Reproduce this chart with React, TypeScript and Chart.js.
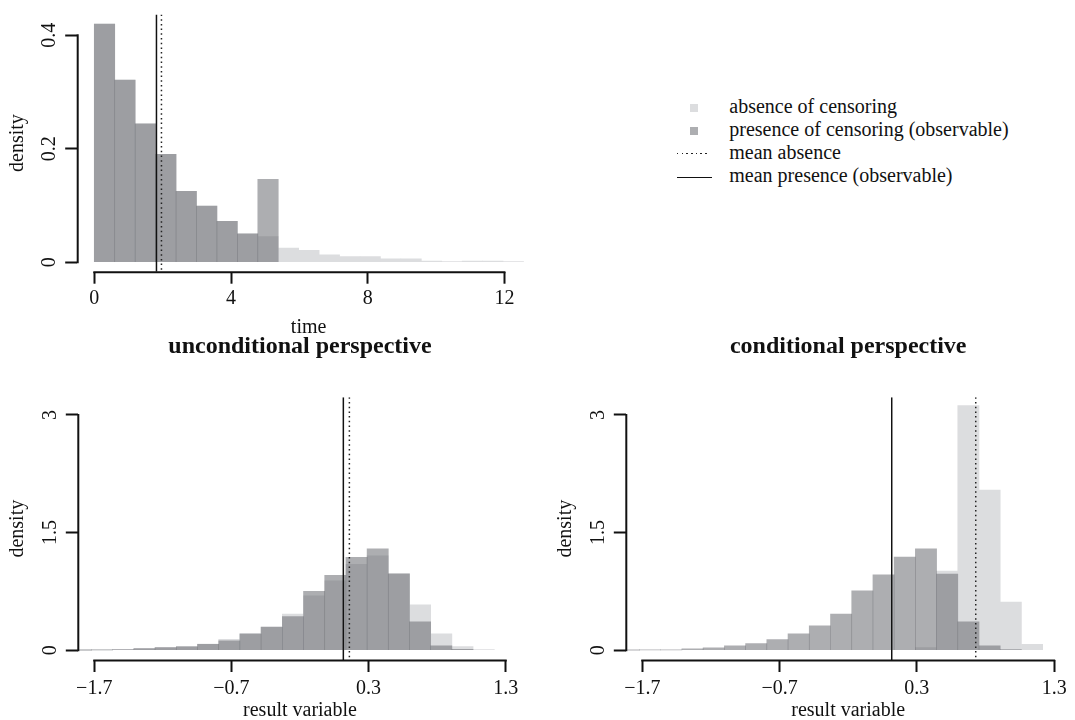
import React, { useEffect, useRef } from "react";
import { Chart, registerables } from "chart.js";

Chart.register(...registerables);

const FONT = "'Liberation Serif', 'Times New Roman', 'DejaVu Serif', serif";
const INK = "#111111";
const ABSENCE_COLOR = "rgb(220, 221, 223)";
const PRESENCE_COLOR = "rgba(103, 105, 110, 0.54)";

// ---------- top panel: time ----------
const timeBreaks = [0, 0.598, 1.196, 1.794, 2.392, 2.99, 3.588, 4.186, 4.784, 5.382, 5.98, 6.578, 7.176, 7.774, 8.372, 8.97, 9.568, 10.166, 10.764, 11.362, 11.96, 12.558];
const timeAbsence = [0.42, 0.321, 0.244, 0.19, 0.125, 0.099, 0.072, 0.05, 0.045, 0.025, 0.021, 0.013, 0.01, 0.01, 0.006, 0.006, 0.002, 0.001, 0.002, 0.002, 0.001];
const timePresence = [0.42, 0.321, 0.244, 0.19, 0.125, 0.099, 0.072, 0.05, 0.146];
const timeMeanAbsence = 1.965;
const timeMeanPresence = 1.819;
const timeTicks = [0, 4, 8, 12];
const timeTickLabels = ["0", "4", "8", "12"];
const timeDensityTicks = [0, 0.2, 0.4];
const timeDensityTickLabels = ["0", "0.2", "0.4"];

// ---------- bottom panels: result variable ----------
const resultBreaks = [-1.875, -1.72, -1.566, -1.411, -1.257, -1.102, -0.947, -0.793, -0.638, -0.484, -0.329, -0.174, -0.02, 0.135, 0.289, 0.444, 0.598, 0.753, 0.907, 1.062, 1.217];
const uncondAbsence = [0.002, 0.004, 0.008, 0.022, 0.034, 0.05, 0.078, 0.14, 0.217, 0.302, 0.462, 0.695, 0.884, 1.096, 1.203, 0.975, 0.578, 0.21, 0.047, 0.008];
const uncondPresence = [0.002, 0.004, 0.008, 0.021, 0.034, 0.044, 0.076, 0.121, 0.206, 0.293, 0.43, 0.752, 0.956, 1.186, 1.292, 0.973, 0.361, 0.056, 0.012, 0];
const uncondMeanAbsence = 0.16;
const uncondMeanPresence = 0.116;
const condAbsence = [0, 0, 0, 0, 0, 0, 0, 0, 0, 0, 0, 0, 0, 0, 0.035, 1.01, 3.12, 2.041, 0.615, 0.076];
const condPresence = [0.002, 0.003, 0.005, 0.017, 0.03, 0.055, 0.085, 0.136, 0.208, 0.31, 0.462, 0.759, 0.963, 1.188, 1.294, 0.972, 0.361, 0.055, 0.008, 0];
const condMeanAbsence = 0.729;
const condMeanPresence = 0.117;
const resultTicks = [-1.7, -0.7, 0.3, 1.3];
const resultTickLabels = ["\u22121.7", "\u22120.7", "0.3", "1.3"];
const resultDensityTicks = [0, 1.5, 3];
const resultDensityTickLabels = ["0", "1.5", "3"];

const legendLabels = [
  "absence of censoring",
  "presence of censoring (observable)",
  "mean absence",
  "mean presence (observable)",
];

function histPoints(edges: number[], values: number[]) {
  const pts: { x: number; y: number }[] = [];
  values.forEach((v, i) => {
    if (v > 0) pts.push({ x: (edges[i] + edges[i + 1]) / 2, y: v });
  });
  return pts;
}

const axisLinePlugin = {
  id: "rAxisLines",
  afterDraw(chart: any) {
    const { ctx, chartArea, scales } = chart;
    const xs = scales.x;
    const ys = scales.y;
    ctx.save();
    ctx.strokeStyle = INK;
    ctx.lineWidth = 2;
    ctx.beginPath();
    const xt = xs.ticks;
    const yb = chartArea.bottom + 0.5;
    ctx.moveTo(xs.getPixelForValue(xt[0].value) - 1, yb);
    ctx.lineTo(xs.getPixelForValue(xt[xt.length - 1].value) + 1, yb);
    const yt = ys.ticks;
    const xl = chartArea.left + 0.5;
    ctx.moveTo(xl, ys.getPixelForValue(yt[0].value) + 1);
    ctx.lineTo(xl, ys.getPixelForValue(yt[yt.length - 1].value) - 1);
    ctx.stroke();
    ctx.restore();
  },
};

interface PanelSpec {
  left: number;
  top: number;
  width: number;
  height: number;
  padding: { top: number; right: number; bottom: number; left: number };
  yAxisWidth: number;
  xAxisHeight: number;
  xMin: number;
  xMax: number;
  yMin: number;
  yMax: number;
  xTicks: number[];
  xTickLabels: string[];
  yTicks: number[];
  yTickLabels: string[];
  xTickPad: number;
  xTitle: string;
  xTitlePadBottom: number;
  yTitle: string;
  title?: string;
  titlePad?: { top: number; bottom: number };
  edges: number[];
  absence: number[];
  presence: number[];
  meanAbsence: number;
  meanPresence: number;
}

function buildConfig(p: PanelSpec): any {
  const tickFont = { family: FONT, size: 20, lineHeight: 1.2 };
  return {
    type: "bar",
    data: {
      datasets: [
        {
          type: "line",
          label: legendLabels[3],
          data: [
            { x: p.meanPresence, y: p.yMax },
            { x: p.meanPresence, y: p.yMin },
          ],
          borderColor: INK,
          borderWidth: 1.5,
          pointRadius: 0,
          fill: false,
          clip: 0,
          order: 0,
        },
        {
          type: "line",
          label: legendLabels[2],
          data: [
            { x: p.meanAbsence, y: p.yMax },
            { x: p.meanAbsence, y: p.yMin },
          ],
          borderColor: "#222222",
          borderWidth: 1.5,
          borderDash: [1.5, 3.2],
          pointRadius: 0,
          fill: false,
          clip: 0,
          order: 0,
        },
        {
          label: legendLabels[1],
          data: histPoints(p.edges, p.presence),
          backgroundColor: PRESENCE_COLOR,
          borderWidth: 0,
          barPercentage: 1,
          categoryPercentage: 1,
          grouped: false,
          clip: 0,
          order: 1,
        },
        {
          label: legendLabels[0],
          data: histPoints(p.edges, p.absence),
          backgroundColor: ABSENCE_COLOR,
          borderWidth: 0,
          barPercentage: 1,
          categoryPercentage: 1,
          grouped: false,
          clip: 0,
          order: 2,
        },
      ],
    },
    options: {
      responsive: false,
      animation: false,
      devicePixelRatio: 1,
      events: [],
      layout: { padding: p.padding },
      plugins: {
        legend: { display: false },
        tooltip: { enabled: false },
        title: p.title
          ? {
              display: true,
              text: p.title,
              color: INK,
              fullSize: false,
              font: { family: FONT, size: 24, weight: "bold", lineHeight: 1.2 },
              padding: p.titlePad,
            }
          : { display: false },
      },
      scales: {
        x: {
          type: "linear",
          min: p.xMin,
          max: p.xMax,
          offset: false,
          afterBuildTicks: (s: any) => {
            s.ticks = p.xTicks.map((v) => ({ value: v }));
          },
          afterFit: (s: any) => {
            s.height = p.xAxisHeight;
          },
          ticks: {
            autoSkip: false,
            minRotation: 0,
            maxRotation: 0,
            padding: p.xTickPad,
            color: INK,
            font: tickFont,
            callback: (_v: any, i: number) => p.xTickLabels[i],
          },
          grid: {
            display: true,
            offset: false,
            drawOnChartArea: false,
            drawTicks: true,
            tickLength: 12,
            tickWidth: 2,
            tickColor: INK,
          },
          border: { display: false },
          title: {
            display: true,
            text: p.xTitle,
            color: INK,
            font: { family: FONT, size: 20, lineHeight: 1 },
            padding: { top: 0, bottom: p.xTitlePadBottom },
          },
        },
        y: {
          type: "linear",
          position: "left",
          min: p.yMin,
          max: p.yMax,
          afterBuildTicks: (s: any) => {
            s.ticks = p.yTicks.map((v) => ({ value: v }));
          },
          afterFit: (s: any) => {
            s.width = p.yAxisWidth;
          },
          ticks: {
            autoSkip: false,
            minRotation: 90,
            maxRotation: 90,
            crossAlign: "center",
            padding: 2.5,
            color: INK,
            font: tickFont,
            callback: (_v: any, i: number) => p.yTickLabels[i],
          },
          grid: {
            display: true,
            drawOnChartArea: false,
            drawTicks: true,
            tickLength: 12,
            tickWidth: 2,
            tickColor: INK,
          },
          border: { display: false },
          title: {
            display: true,
            text: p.yTitle,
            color: INK,
            font: { family: FONT, size: 20, lineHeight: 1 },
            padding: { top: 8, bottom: 0 },
          },
        },
      },
    },
    plugins: [axisLinePlugin],
  };
}

function Panel({ spec }: { spec: PanelSpec }) {
  const ref = useRef<HTMLCanvasElement | null>(null);
  useEffect(() => {
    const chart = new Chart(ref.current as HTMLCanvasElement, buildConfig(spec));
    return () => chart.destroy();
  }, [spec]);
  return (
    <canvas
      ref={ref}
      width={spec.width}
      height={spec.height}
      style={{ position: "absolute", left: spec.left, top: spec.top, width: spec.width, height: spec.height }}
    />
  );
}

const topSpec: PanelSpec = {
  left: 0,
  top: 0,
  width: 560,
  height: 333,
  padding: { top: 8.7, right: 20, bottom: 2, left: 0 },
  yAxisWidth: 77.2,
  xAxisHeight: 59.3,
  xMin: -0.5,
  xMax: 13.04,
  yMin: -0.0168,
  yMax: 0.4368,
  xTicks: timeTicks,
  xTickLabels: timeTickLabels,
  yTicks: timeDensityTicks,
  yTickLabels: timeDensityTickLabels,
  xTickPad: 3,
  xTitle: "time",
  xTitlePadBottom: -7,
  yTitle: "density",
  edges: timeBreaks,
  absence: timeAbsence,
  presence: timePresence,
  meanAbsence: timeMeanAbsence,
  meanPresence: timeMeanPresence,
};

const bottomLeftSpec: PanelSpec = {
  left: 0,
  top: 325,
  width: 545,
  height: 395,
  padding: { top: 0, right: 22.8, bottom: 0, left: 0 },
  yAxisWidth: 77.8,
  xAxisHeight: 60,
  xMin: -1.82,
  xMax: 1.42,
  yMin: -0.124,
  yMax: 3.224,
  xTicks: resultTicks,
  xTickLabels: resultTickLabels,
  yTicks: resultDensityTicks,
  yTickLabels: resultDensityTickLabels,
  xTickPad: 4.5,
  xTitle: "result variable",
  xTitlePadBottom: -1,
  yTitle: "density",
  title: "unconditional perspective",
  titlePad: { top: 7.6, bottom: 35.9 },
  edges: resultBreaks,
  absence: uncondAbsence,
  presence: uncondPresence,
  meanAbsence: uncondMeanAbsence,
  meanPresence: uncondMeanPresence,
};

const bottomRightSpec: PanelSpec = {
  ...bottomLeftSpec,
  left: 548,
  width: 527,
  padding: { top: 0, right: 4.4, bottom: 0, left: 0 },
  title: "conditional perspective",
  absence: condAbsence,
  presence: condPresence,
  meanAbsence: condMeanAbsence,
  meanPresence: condMeanPresence,
};

function Legend() {
  const rowH = 23.1;
  const symbols = [
    <div key="s0" style={{ position: "absolute", left: 14, top: 8.7, width: 8, height: 8, background: ABSENCE_COLOR }} />,
    <div key="s1" style={{ position: "absolute", left: 14, top: 8.7, width: 8, height: 8, background: PRESENCE_COLOR }} />,
    <div
      key="s2"
      style={{
        position: "absolute",
        left: 0.7,
        top: 11.8,
        width: 31.6,
        height: 1.5,
        backgroundImage: "repeating-linear-gradient(to right, #222 0px, #222 1.5px, transparent 1.5px, transparent 4.7px)",
      }}
    />,
    <div key="s3" style={{ position: "absolute", left: 0.7, top: 12.6, width: 35, height: 1.5, background: INK }} />,
  ];
  return (
    <div style={{ position: "absolute", left: 676, top: 95, width: 380 }}>
      {legendLabels.map((lab, i) => (
        <div key={lab} style={{ position: "relative", height: rowH }}>
          {symbols[i]}
          <span
            style={{
              position: "absolute",
              left: 53.3,
              top: 0,
              lineHeight: rowH + "px",
              fontSize: 20,
              fontFamily: FONT,
              color: INK,
              whiteSpace: "nowrap",
            }}
          >
            {lab}
          </span>
        </div>
      ))}
    </div>
  );
}

export default function App() {
  return (
    <div
      style={{
        position: "absolute",
        left: 0,
        top: 0,
        width: 1075,
        height: 720,
        overflow: "hidden",
        background: "#ffffff",
        fontFamily: FONT,
      }}
    >
      <Panel spec={topSpec} />
      <Panel spec={bottomLeftSpec} />
      <Panel spec={bottomRightSpec} />
      <Legend />
    </div>
  );
}
